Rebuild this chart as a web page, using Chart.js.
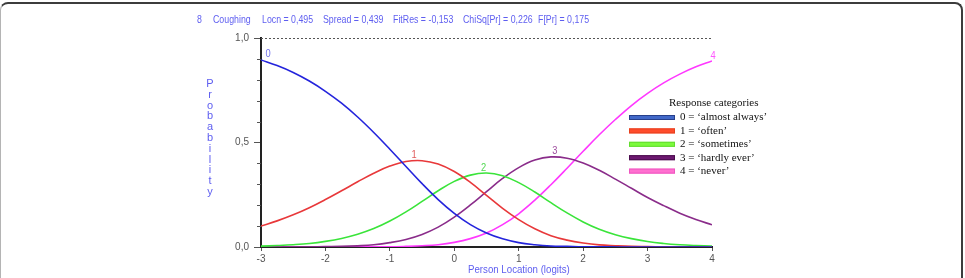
<!DOCTYPE html>
<html>
<head>
<meta charset="utf-8">
<title>Coughing - category probability curves</title>
<script src="https://cdn.jsdelivr.net/npm/chart.js@4.4.1/dist/chart.umd.min.js"></script>
<style>
  body { margin: 0; background: #fff; }
  #frame { position: absolute; left: 0; top: 2px; width: 963px; height: 300px; box-sizing: border-box;
    border-top: 2px solid #3c3c3c; border-right: 2px solid #3c3c3c; border-left: 1px solid #b4b4b4;
    border-radius: 8px 8px 0 0; }
  #wrap { position: absolute; left: 0; top: 0; width: 965px; height: 278px; }
</style>
</head>
<body>
<div id="frame"></div>
<div id="wrap"><canvas id="chart" width="965" height="278"></canvas></div>
<script>
'use strict';

var logits = [-3, -2.75, -2.5, -2.25, -2, -1.75, -1.5, -1.25, -1, -0.75, -0.5, -0.25, 0, 0.25, 0.5,
  0.75, 1, 1.25, 1.5, 1.75, 2, 2.25, 2.5, 2.75, 3, 3.25, 3.5, 3.75, 4];

// probability of each response category
var almostAlways = [0.895, 0.868, 0.835, 0.794, 0.745, 0.688, 0.622, 0.548, 0.468, 0.385, 0.303, 0.227, 0.161, 0.107, 0.067,
  0.039, 0.021, 0.011, 0.005, 0.003, 0.001, 0.001, 0, 0, 0, 0, 0, 0, 0];
var often = [0.100, 0.125, 0.154, 0.188, 0.227, 0.269, 0.312, 0.353, 0.387, 0.409, 0.413, 0.397, 0.361, 0.309, 0.247,
  0.185, 0.131, 0.087, 0.054, 0.033, 0.019, 0.010, 0.006, 0.003, 0.002, 0.001, 0, 0, 0];
var sometimes = [0.004, 0.007, 0.011, 0.017, 0.027, 0.041, 0.061, 0.088, 0.124, 0.168, 0.218, 0.269, 0.314, 0.344, 0.354,
  0.341, 0.308, 0.263, 0.212, 0.163, 0.120, 0.085, 0.059, 0.040, 0.026, 0.017, 0.011, 0.007, 0.004];
var hardlyEver = [0, 0, 0, 0.001, 0.002, 0.003, 0.006, 0.011, 0.021, 0.036, 0.060, 0.095, 0.143, 0.201, 0.265,
  0.328, 0.380, 0.416, 0.431, 0.425, 0.402, 0.367, 0.325, 0.281, 0.237, 0.198, 0.162, 0.132, 0.106];
var never = [0, 0, 0, 0, 0, 0, 0, 0.001, 0.001, 0.003, 0.006, 0.011, 0.022, 0.040, 0.067,
  0.107, 0.159, 0.224, 0.298, 0.377, 0.458, 0.537, 0.610, 0.677, 0.735, 0.785, 0.827, 0.862, 0.890];

var categoryNumbers = ['0', '1', '2', '3', '4'];
var legendNames = ['0 = \u2018almost always\u2019', '1 = \u2018often\u2019', '2 = \u2018sometimes\u2019',
  '3 = \u2018hardly ever\u2019', '4 = \u2018never\u2019'];
var legendTitle = 'Response categories';
var headerParts = ['8', 'Coughing', 'Locn = 0,495', 'Spread = 0,439', 'FitRes = -0,153', 'ChiSq[Pr] = 0,226', 'F[Pr] = 0,175'];
var xTitle = 'Person Location (logits)';
var yTitle = 'Probability';
var yLabelValues = [0, 0.5, 1];

var series = [almostAlways, often, sometimes, hardlyEver, never];
var lineColors = ['#2424dc', '#e8383a', '#3ae43a', '#8a2c8a', '#ff38ff'];
var numberColors = ['#7474ec', '#e05858', '#52d852', '#a050a0', '#ff58ff'];
var swatchFill = ['#4168c8', '#ff4c2c', '#7cfa3c', '#6c1870', '#ff70d0'];
var swatchEdge = ['#27408b', '#e6401e', '#62dc30', '#4a0e4e', '#ee56c0'];

var narrow = "'Liberation Sans Narrow', 'Liberation Sans', Arial, sans-serif";
var titleBlue = '#5e5ef0';

function isMajor(v) {
  return Math.abs(v * 2 - Math.round(v * 2)) < 1e-6;
}

function toPoints(values) {
  return values.map(function(v, i) { return { x: logits[i], y: v }; });
}

// squeeze text sideways, the original uses a narrow face
function narrowText(c, text, x, y, squeeze) {
  c.fillText(text, x, y, c.measureText(text).width * squeeze);
}

// header, axis titles, dotted 1,0 line, minor ticks, curve numbers and the legend box
var extrasPlugin = {
  id: 'extras',
  afterDraw: function(chart) {
    var c = chart.ctx;
    var xs = chart.scales.x;
    var ys = chart.scales.y;
    c.save();

    // dotted line at probability 1
    var yOne = Math.round(ys.getPixelForValue(1)) + 0.5;
    c.strokeStyle = '#555';
    c.lineWidth = 1;
    c.setLineDash([2, 2]);
    c.beginPath();
    c.moveTo(xs.left, yOne);
    c.lineTo(xs.right, yOne);
    c.stroke();
    c.setLineDash([]);

    // short minor ticks on the y axis
    c.strokeStyle = '#555';
    c.lineWidth = 1;
    ys.ticks.forEach(function(t) {
      if (isMajor(t.value)) return;
      var py = Math.round(ys.getPixelForValue(t.value)) + 0.5;
      c.beginPath();
      c.moveTo(xs.left - 4, py);
      c.lineTo(xs.left, py);
      c.stroke();
    });

    // header line
    var headerX = [197, 213, 262, 323, 393, 463, 538];
    c.fillStyle = titleBlue;
    c.font = '11px ' + narrow;
    c.textAlign = 'left';
    c.textBaseline = 'middle';
    for (var h = 0; h < headerParts.length; h++) {
      narrowText(c, headerParts[h], headerX[h], 20, 0.8);
    }

    // x title
    narrowText(c, xTitle, 468, 270, 0.88);

    // y title, one letter under the other
    c.textAlign = 'center';
    for (var k = 0; k < yTitle.length; k++) {
      c.fillText(yTitle[k], 210, 84 + k * 10.8);
    }

    // curve numbers near each maximum
    var numOffsets = [[7, -6], [-8, -6], [-3, -5], [4, -6], [1, -5]];
    for (var s = 0; s < series.length; s++) {
      var best = 0;
      for (var i = 1; i < series[s].length; i++) {
        if (series[s][i] > series[s][best]) best = i;
      }
      var px = xs.getPixelForValue(logits[best]);
      var py2 = ys.getPixelForValue(series[s][best]);
      c.fillStyle = numberColors[s];
      narrowText(c, categoryNumbers[s], px + numOffsets[s][0], py2 + numOffsets[s][1], 0.85);
    }

    // legend
    c.font = '11px "Liberation Serif", "Times New Roman", serif';
    c.fillStyle = '#111';
    c.textAlign = 'left';
    c.fillText(legendTitle, 669, 103);
    for (var n = 0; n < legendNames.length; n++) {
      var ly = 117.5 + n * 13.4;
      c.fillStyle = swatchFill[n];
      c.fillRect(629, ly - 2.5, 46, 5);
      c.strokeStyle = swatchEdge[n];
      c.lineWidth = 1;
      c.strokeRect(629.5, ly - 2, 45, 4);
      c.fillStyle = '#111';
      c.fillText(legendNames[n], 680, ly);
    }
    c.restore();
  }
};

var datasets = [];
for (var d = 0; d < series.length; d++) {
  datasets.push({
    label: legendNames[d],
    data: toPoints(series[d]),
    borderColor: lineColors[d],
    backgroundColor: lineColors[d],
    borderWidth: 1.6,
    pointRadius: 0,
    tension: 0.4,
    fill: false
  });
}

var ctx = document.getElementById('chart').getContext('2d');
var chart = new Chart(ctx, {
  type: 'line',
  data: { datasets: datasets },
  options: {
    responsive: false,
    animation: false,
    devicePixelRatio: 1,
    layout: { padding: { top: 38, right: 253, bottom: 0, left: 0 } },
    plugins: { legend: { display: false }, tooltip: { enabled: false } },
    scales: {
      x: {
        type: 'linear',
        min: -3,
        max: 4,
        afterFit: function(scale) { scale.height = 31; },
        grid: { drawOnChartArea: false, drawTicks: true, tickLength: 4, tickColor: '#555' },
        border: { display: true, color: '#222', width: 2 },
        ticks: { stepSize: 1, color: '#555', padding: 2, font: { family: narrow, size: 10 } }
      },
      y: {
        min: 0,
        max: 1,
        afterFit: function(scale) { scale.width = 261; },
        grid: {
          drawOnChartArea: false,
          drawTicks: true,
          tickLength: 7,
          tickColor: function(c) { return isMajor(c.tick.value) ? '#555' : 'rgba(0,0,0,0)'; }
        },
        border: { display: true, color: '#222', width: 2 },
        ticks: {
          stepSize: 0.1,
          color: '#555',
          padding: 5,
          font: { family: narrow, size: 10 },
          callback: function(v) {
            for (var i = 0; i < yLabelValues.length; i++) {
              if (Math.abs(v - yLabelValues[i]) < 1e-6) return yLabelValues[i].toFixed(1).replace('.', ',');
            }
            return '';
          }
        }
      }
    }
  },
  plugins: [extrasPlugin]
});
</script>
</body>
</html>
